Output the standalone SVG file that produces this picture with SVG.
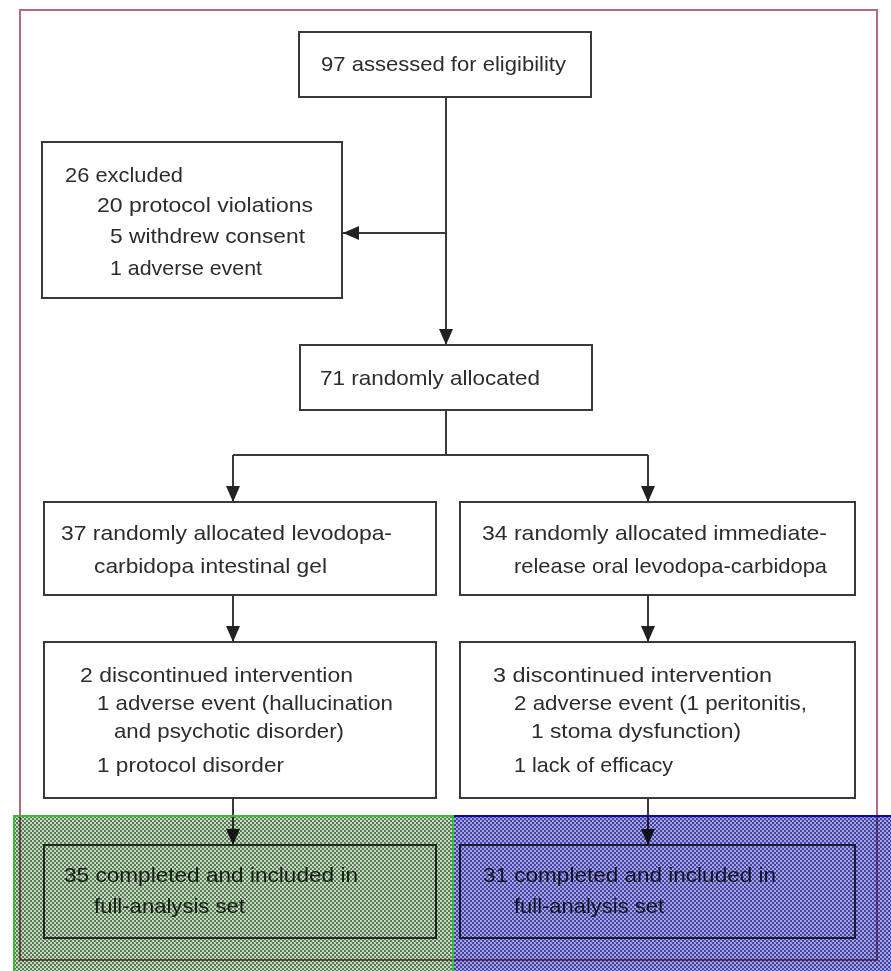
<svg xmlns="http://www.w3.org/2000/svg" width="891" height="971" viewBox="0 0 891 971">
<style>
.box{fill:#fff;stroke:#3a3a3a;stroke-width:2}
.t{font-family:"Liberation Sans",Arial,sans-serif;font-size:21px;fill:#2c2c2c}
.c{fill:none;stroke:#3a3a3a;stroke-width:2}
.ov{mix-blend-mode:multiply}
</style>
<defs>
<marker id="a" viewBox="0 0 16 14" refX="16" refY="7" markerWidth="16" markerHeight="14" markerUnits="userSpaceOnUse" orient="auto">
<path d="M0,0 L16,7 L0,14 z" fill="#222"/>
</marker>
<pattern id="pg" width="4" height="4" patternUnits="userSpaceOnUse">
<rect width="4" height="4" fill="#5a785a"/>
<rect width="2" height="2" fill="#c4dcbc"/>
<rect x="2" y="2" width="2" height="2" fill="#c4dcbc"/>
</pattern>
<pattern id="pb" width="4" height="4" patternUnits="userSpaceOnUse">
<rect width="4" height="4" fill="#4444a0"/>
<rect width="2" height="2" fill="#a4a4e4"/>
<rect x="2" y="2" width="2" height="2" fill="#a4a4e4"/>
</pattern>
</defs>
<rect width="891" height="971" fill="#fff"/>
<rect id="frame" x="20" y="10" width="857" height="950" fill="none" stroke="#b06a88" stroke-width="2"/>

<g id="connectors">
<line class="c" x1="446" y1="97" x2="446" y2="345" marker-end="url(#a)"/>
<line class="c" x1="446" y1="233" x2="343" y2="233" marker-end="url(#a)"/>
<polyline class="c" points="446,410 446,455"/>
<polyline class="c" points="233,455 648,455"/>
<line class="c" x1="233" y1="455" x2="233" y2="502" marker-end="url(#a)"/>
<line class="c" x1="648" y1="455" x2="648" y2="502" marker-end="url(#a)"/>
<line class="c" x1="233" y1="595" x2="233" y2="642" marker-end="url(#a)"/>
<line class="c" x1="648" y1="595" x2="648" y2="642" marker-end="url(#a)"/>
<line class="c" x1="233" y1="798" x2="233" y2="845" marker-end="url(#a)"/>
<line class="c" x1="648" y1="798" x2="648" y2="845" marker-end="url(#a)"/>
</g>

<g id="assessed">
<rect class="box" x="299" y="32" width="292" height="65"/>
<text class="t" x="321" y="71" textLength="245" lengthAdjust="spacingAndGlyphs">97 assessed for eligibility</text>
</g>

<g id="excluded">
<rect class="box" x="42" y="142" width="300" height="156"/>
<text class="t" x="65" y="182" textLength="118" lengthAdjust="spacingAndGlyphs">26 excluded</text>
<text class="t" x="97" y="212" textLength="216" lengthAdjust="spacingAndGlyphs">20 protocol violations</text>
<text class="t" x="110" y="243" textLength="195" lengthAdjust="spacingAndGlyphs">5 withdrew consent</text>
<text class="t" x="110" y="275" textLength="152" lengthAdjust="spacingAndGlyphs">1 adverse event</text>
</g>

<g id="allocated">
<rect class="box" x="300" y="345" width="292" height="65"/>
<text class="t" x="320" y="385" textLength="220" lengthAdjust="spacingAndGlyphs">71 randomly allocated</text>
</g>

<g id="lcig">
<rect class="box" x="44" y="502" width="392" height="93"/>
<text class="t" x="61" y="540" textLength="331" lengthAdjust="spacingAndGlyphs">37 randomly allocated levodopa-</text>
<text class="t" x="94" y="573" textLength="233" lengthAdjust="spacingAndGlyphs">carbidopa intestinal gel</text>
</g>

<g id="oral">
<rect class="box" x="460" y="502" width="395" height="93"/>
<text class="t" x="482" y="540" textLength="345" lengthAdjust="spacingAndGlyphs">34 randomly allocated immediate-</text>
<text class="t" x="514" y="573" textLength="313" lengthAdjust="spacingAndGlyphs">release oral levodopa-carbidopa</text>
</g>

<g id="disc-left">
<rect class="box" x="44" y="642" width="392" height="156"/>
<text class="t" x="80" y="682" textLength="273" lengthAdjust="spacingAndGlyphs">2 discontinued intervention</text>
<text class="t" x="97" y="710" textLength="296" lengthAdjust="spacingAndGlyphs">1 adverse event (hallucination</text>
<text class="t" x="114" y="738" textLength="230" lengthAdjust="spacingAndGlyphs">and psychotic disorder)</text>
<text class="t" x="97" y="772" textLength="187" lengthAdjust="spacingAndGlyphs">1 protocol disorder</text>
</g>

<g id="disc-right">
<rect class="box" x="460" y="642" width="395" height="156"/>
<text class="t" x="493" y="682" textLength="279" lengthAdjust="spacingAndGlyphs">3 discontinued intervention</text>
<text class="t" x="514" y="710" textLength="293" lengthAdjust="spacingAndGlyphs">2 adverse event (1 peritonitis,</text>
<text class="t" x="531" y="738" textLength="210" lengthAdjust="spacingAndGlyphs">1 stoma dysfunction)</text>
<text class="t" x="514" y="772" textLength="159" lengthAdjust="spacingAndGlyphs">1 lack of efficacy</text>
</g>

<g id="completed-left">
<rect class="box" x="44" y="845" width="392" height="93"/>
<text class="t" x="64" y="882" textLength="294" lengthAdjust="spacingAndGlyphs">35 completed and included in</text>
<text class="t" x="94" y="913" textLength="151" lengthAdjust="spacingAndGlyphs">full-analysis set</text>
</g>

<g id="completed-right">
<rect class="box" x="460" y="845" width="395" height="93"/>
<text class="t" x="483" y="882" textLength="293" lengthAdjust="spacingAndGlyphs">31 completed and included in</text>
<text class="t" x="514" y="913" textLength="150" lengthAdjust="spacingAndGlyphs">full-analysis set</text>
</g>

<g id="overlays">
<rect class="ov" x="14" y="816" width="439" height="160" fill="url(#pg)"/>
<rect class="ov" x="453" y="816" width="440" height="160" fill="url(#pb)"/>
<line x1="453" y1="816" x2="891" y2="816" stroke="#0a0aa0" stroke-width="2"/>
<path d="M14,971 L14,816 L453,816 L453,971" fill="none" stroke="#3cbc3c" stroke-width="2"/>
</g>
</svg>
